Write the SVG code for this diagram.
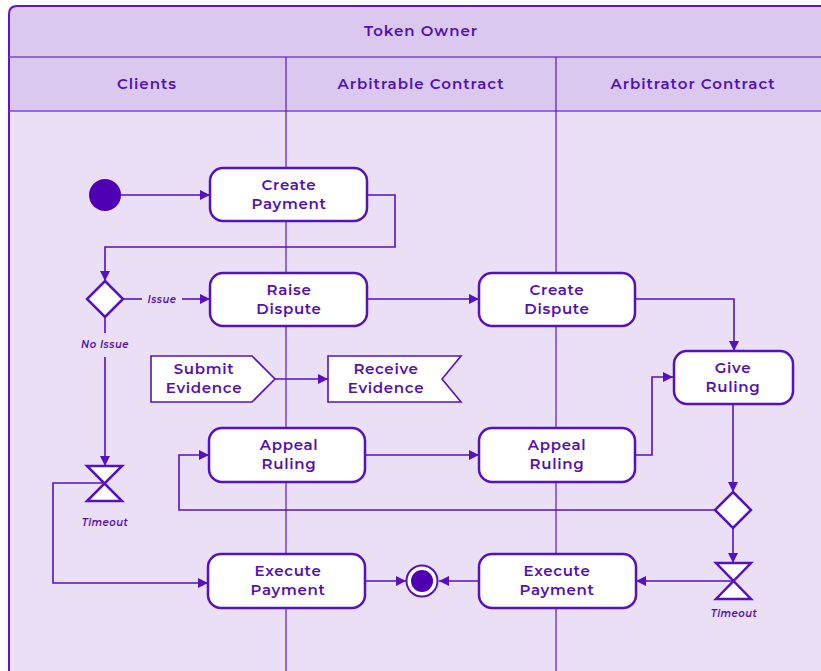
<svg xmlns="http://www.w3.org/2000/svg" width="821" height="671" viewBox="0 0 821 671">
<style>
.hdr{fill:#dac8ef}
.body{fill:#ebdff6}
.frame{fill:none;stroke:#5a16c4;stroke-width:2}
.sep{stroke:#7a44d6;stroke-width:1.5;fill:none}
.lane{stroke:#5a16c4;stroke-width:1.2;fill:none}
.node{fill:#fff;stroke:#5512c0;stroke-width:2.5}
.conn{fill:none;stroke:#5512c0;stroke-width:1.6}
text{font-family:"Montserrat","Inter","Open Sans","Liberation Sans",sans-serif;fill:#5210b4;text-anchor:middle}
.ht{font-size:15px;font-weight:600;letter-spacing:1px}
.nt{font-size:15px;font-weight:600;letter-spacing:0.7px}
.lab{font-size:10px;font-style:italic;font-weight:600;letter-spacing:0.5px}
</style>
<defs>
<marker id="ah" viewBox="0 0 10 10" refX="10" refY="5" markerWidth="10" markerHeight="10" markerUnits="userSpaceOnUse" orient="auto">
<path d="M0,0 L10,5 L0,10 z" fill="#5512c0"/>
</marker>
</defs>
<rect x="0" y="0" width="821" height="671" fill="#ffffff"/>
<g id="swimlanes">
<path class="body" d="M9,111 H830 V680 H9 z"/>
<path class="hdr" d="M9,14 Q9,6 17,6 H830 V111 H9 z"/>
<path class="frame" d="M9,680 V14 Q9,6 17,6 H830"/>
<line class="sep" x1="9" y1="57" x2="830" y2="57"/>
<line class="sep" x1="9" y1="111" x2="830" y2="111"/>
<line class="lane" x1="286" y1="57" x2="286" y2="680"/>
<line class="lane" x1="556" y1="57" x2="556" y2="680"/>
<text class="ht" x="421" y="36">Token Owner</text>
<text class="ht" x="147" y="89">Clients</text>
<text class="ht" x="421" y="89">Arbitrable Contract</text>
<text class="ht" x="693" y="89">Arbitrator Contract</text>
</g>
<g id="connectors">
<line class="conn" x1="121" y1="195" x2="210" y2="195" marker-end="url(#ah)"/>
<path class="conn" d="M367,195 H395 V247 H105 V281" marker-end="url(#ah)"/>
<line class="conn" x1="123" y1="299" x2="142" y2="299"/>
<line class="conn" x1="182" y1="299" x2="210" y2="299" marker-end="url(#ah)"/>
<line class="conn" x1="105" y1="317" x2="105" y2="333"/>
<line class="conn" x1="105" y1="357" x2="105" y2="466" marker-end="url(#ah)"/>
<line class="conn" x1="367" y1="299" x2="479" y2="299" marker-end="url(#ah)"/>
<path class="conn" d="M635,299 H734 V351" marker-end="url(#ah)"/>
<line class="conn" x1="275" y1="379" x2="328" y2="379" marker-end="url(#ah)"/>
<line class="conn" x1="365" y1="455" x2="479" y2="455" marker-end="url(#ah)"/>
<path class="conn" d="M635,455 H652 V377 H673" marker-end="url(#ah)"/>
<line class="conn" x1="733" y1="404" x2="733" y2="492" marker-end="url(#ah)"/>
<path class="conn" d="M715,510 H179 V455 H209" marker-end="url(#ah)"/>
<line class="conn" x1="733" y1="528" x2="733" y2="563" marker-end="url(#ah)"/>
<line class="conn" x1="734" y1="581" x2="636" y2="581" marker-end="url(#ah)"/>
<line class="conn" x1="479" y1="581" x2="439" y2="581" marker-end="url(#ah)"/>
<line class="conn" x1="365" y1="581" x2="406" y2="581" marker-end="url(#ah)"/>
<path class="conn" d="M105,483 H53 V583 H208" marker-end="url(#ah)"/>
<text class="lab" x="162" y="303">Issue</text>
<text class="lab" x="105" y="348">No Issue</text>
<text class="lab" x="105" y="526">Timeout</text>
<text class="lab" x="734" y="617">Timeout</text>
</g>
<g id="start"><circle cx="105" cy="195" r="16" fill="#5000b4"/></g>
<g id="create-payment"><rect class="node" x="210" y="168" width="157" height="53" rx="13"/><text class="nt" x="289" y="190">Create</text><text class="nt" x="289" y="209">Payment</text></g>
<g id="decision-issue"><path class="node" d="M105,281 L123,299 L105,317 L87,299 z"/></g>
<g id="raise-dispute"><rect class="node" x="210" y="273" width="157" height="53" rx="13"/><text class="nt" x="289" y="295">Raise</text><text class="nt" x="289" y="314">Dispute</text></g>
<g id="create-dispute"><rect class="node" x="479" y="273" width="156" height="53" rx="13"/><text class="nt" x="557" y="295">Create</text><text class="nt" x="557" y="314">Dispute</text></g>
<g id="give-ruling"><rect class="node" x="674" y="351" width="119" height="53" rx="13"/><text class="nt" x="733" y="373">Give</text><text class="nt" x="733" y="392">Ruling</text></g>
<g id="submit-evidence"><path d="M151,356 H252 L275,379 L252,402 H151 z" fill="#fff" stroke="#5512c0" stroke-width="1.6"/><text class="nt" x="204" y="374">Submit</text><text class="nt" x="204" y="393">Evidence</text></g>
<g id="receive-evidence"><path d="M328,356 H461 L442,379 L461,402 H328 z" fill="#fff" stroke="#5512c0" stroke-width="1.6"/><text class="nt" x="386" y="374">Receive</text><text class="nt" x="386" y="393">Evidence</text></g>
<g id="appeal-ruling-a"><rect class="node" x="209" y="428" width="156" height="54" rx="13"/><text class="nt" x="289" y="450">Appeal</text><text class="nt" x="289" y="469">Ruling</text></g>
<g id="appeal-ruling-b"><rect class="node" x="479" y="428" width="156" height="54" rx="13"/><text class="nt" x="557" y="450">Appeal</text><text class="nt" x="557" y="469">Ruling</text></g>
<g id="timeout-1"><path class="node" d="M87,466 H122 L87,501 H122 z"/></g>
<g id="decision-appeal"><path class="node" d="M733,492 L751,510 L733,528 L715,510 z"/></g>
<g id="timeout-2"><path class="node" d="M716,563 H751 L716,599 H751 z"/></g>
<g id="execute-payment-a"><rect class="node" x="208" y="554" width="157" height="54" rx="13"/><text class="nt" x="288" y="576">Execute</text><text class="nt" x="288" y="595">Payment</text></g>
<g id="execute-payment-b"><rect class="node" x="479" y="554" width="157" height="54" rx="13"/><text class="nt" x="557" y="576">Execute</text><text class="nt" x="557" y="595">Payment</text></g>
<g id="end"><circle cx="422" cy="581" r="15.5" fill="#fff" stroke="#5512c0" stroke-width="2"/><circle cx="422" cy="581" r="11" fill="#5000b4"/></g>
</svg>
